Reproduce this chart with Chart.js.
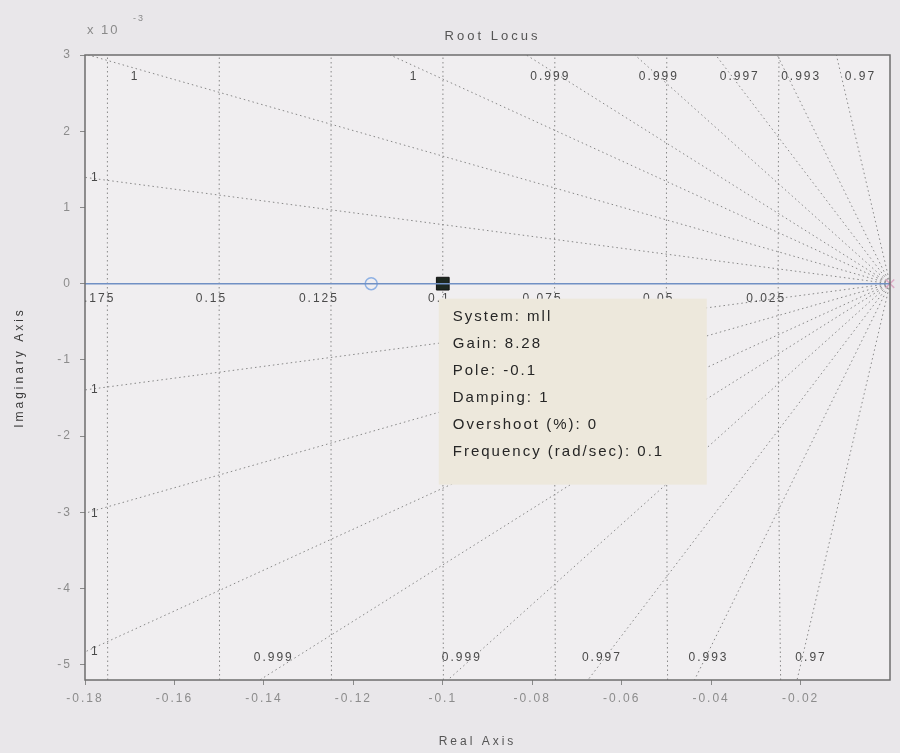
<!DOCTYPE html>
<html>
<head>
<meta charset="utf-8">
<title>Root Locus</title>
<script src="https://cdn.jsdelivr.net/npm/chart.js@4/dist/chart.umd.min.js"></script>
<style>
  html, body { margin: 0; padding: 0; background: #e9e7ea; }
  canvas { display: block; }
</style>
</head>
<body>
<canvas id="c" width="900" height="753"></canvas>
<script>
// Axis ticks (imaginary part is in units of 1e-3)
const realTicks = [-0.18, -0.16, -0.14, -0.12, -0.1, -0.08, -0.06, -0.04, -0.02];
const imagTicks = [-5, -4, -3, -2, -1, 0, 1, 2, 3];
const realRange = [-0.18, 0];
const imagRange = [-5.2, 3];

// s-plane grid: constant damping rays and natural frequency contours
const dampingRatios = [0.99997, 0.99986, 0.99964, 0.99932, 0.99862, 0.99705, 0.993, 0.9701];
const naturalFreqs = [0.175, 0.15, 0.125, 0.1, 0.075, 0.05, 0.025];

// Root locus branch on the real axis, open-loop zero and pole
const locusRe = [-0.18, -0.116, -0.1, 0];
const locusIm = [0, 0, 0, 0];
const zeroRe = [-0.116];
const zeroIm = [0];
const poleRe = [0];
const poleIm = [0];

// Selected closed-loop pole (data tip)
const tipSystem = 'mll';
const tipGain = 8.28;
const tipRe = [-0.1];
const tipIm = [0];

const IMAG_UNIT = 1e-3;
const FONT = '"Liberation Sans", "DejaVu Sans", sans-serif';

function fmt(v) { return String(Number(v.toFixed(3))); }
function pts(xs, ys) { return xs.map((x, i) => ({ x: x, y: ys[i] })); }

const backdrop = {
  id: 'backdrop',
  beforeDraw(chart) {
    const { ctx, chartArea: a } = chart;
    ctx.save();
    ctx.fillStyle = '#e9e7ea';
    ctx.fillRect(0, 0, chart.width, chart.height);
    ctx.fillStyle = '#f0eef0';
    ctx.fillRect(a.left, a.top, a.right - a.left, a.bottom - a.top);
    ctx.restore();
    ctx.letterSpacing = '2px';
  }
};

const sgrid = {
  id: 'sgrid',
  beforeDatasetsDraw(chart) {
    const { ctx, chartArea: a, scales: { x, y } } = chart;
    ctx.save();
    ctx.beginPath();
    ctx.rect(a.left, a.top, a.right - a.left, a.bottom - a.top);
    ctx.clip();
    ctx.strokeStyle = '#888';
    ctx.lineWidth = 1;
    ctx.setLineDash([1.5, 3]);

    // natural frequency contours (circles |s| = wn)
    naturalFreqs.forEach(wn => {
      ctx.beginPath();
      for (let i = 0; i <= 60; i++) {
        const im = imagRange[0] + (imagRange[1] - imagRange[0]) * i / 60;
        const re = -Math.sqrt(Math.max(wn * wn - (im * IMAG_UNIT) ** 2, 0));
        const px = x.getPixelForValue(re), py = y.getPixelForValue(im);
        if (i === 0) ctx.moveTo(px, py); else ctx.lineTo(px, py);
      }
      ctx.stroke();
    });

    // constant damping rays
    const labels = [];
    dampingRatios.forEach(z => {
      const k = Math.sqrt(1 - z * z) / z / IMAG_UNIT;
      [1, -1].forEach(sg => {
        const lim = sg > 0 ? imagRange[1] : -imagRange[0];
        let xe = -lim / k, ye = sg * lim, edge = sg > 0 ? 'top' : 'bottom';
        if (xe < realRange[0]) { xe = realRange[0]; ye = sg * k * -realRange[0]; edge = 'left'; }
        ctx.beginPath();
        ctx.moveTo(x.getPixelForValue(0), y.getPixelForValue(0));
        ctx.lineTo(x.getPixelForValue(xe), y.getPixelForValue(ye));
        ctx.stroke();
        labels.push({ text: fmt(z), edge: edge, px: x.getPixelForValue(xe), py: y.getPixelForValue(ye) });
      });
    });

    ctx.setLineDash([]);
    ctx.letterSpacing = '2px';
    ctx.font = '12px ' + FONT;
    ctx.fillStyle = '#4a4a4a';
    labels.forEach(l => {
      if (l.edge === 'left') {
        ctx.textAlign = 'left'; ctx.textBaseline = 'middle';
        ctx.fillText(l.text, a.left + 6, l.py);
      } else if (l.edge === 'top') {
        ctx.textAlign = 'center'; ctx.textBaseline = 'middle';
        ctx.fillText(l.text, Math.max(l.px + 24, a.left + 50), a.top + 22);
      } else {
        ctx.textAlign = 'center'; ctx.textBaseline = 'middle';
        ctx.fillText(l.text, l.px + 14, a.bottom - 22);
      }
    });

    // natural frequency labels just under the real axis
    ctx.textAlign = 'right'; ctx.textBaseline = 'top';
    naturalFreqs.forEach(wn => {
      ctx.fillText(fmt(wn), x.getPixelForValue(-wn) + 8, y.getPixelForValue(0) + 9);
    });
    ctx.restore();
  }
};

const frame = {
  id: 'frame',
  afterDatasetsDraw(chart) {
    const { ctx, chartArea: a, scales: { x, y } } = chart;
    ctx.save();
    ctx.strokeStyle = '#6e6e6e';
    ctx.lineWidth = 1.5;
    ctx.strokeRect(a.left, a.top, a.right - a.left, a.bottom - a.top);

    // data tip for the selected pole
    const re = tipRe[0], im = tipIm[0];
    const wn = Math.hypot(re, im * IMAG_UNIT);
    const zeta = -re / wn;
    const overshoot = zeta >= 1 ? 0 : 100 * Math.exp(-Math.PI * zeta / Math.sqrt(1 - zeta * zeta));
    const px = x.getPixelForValue(re), py = y.getPixelForValue(im);
    const bx = px - 4, by = py + 15;
    ctx.fillStyle = '#ede8dc';
    ctx.fillRect(bx, by, 268, 186);
    const lines = [
      'System: ' + tipSystem,
      'Gain: ' + tipGain,
      'Pole: ' + fmt(re),
      'Damping: ' + fmt(zeta),
      'Overshoot (%): ' + fmt(overshoot),
      'Frequency (rad/sec): ' + fmt(wn)
    ];
    ctx.letterSpacing = '2px';
    ctx.font = '15px ' + FONT;
    ctx.fillStyle = '#262626';
    ctx.textAlign = 'left'; ctx.textBaseline = 'middle';
    lines.forEach((t, i) => ctx.fillText(t, bx + 14, by + 18 + i * 27));

    // titles and exponent
    ctx.fillStyle = '#555';
    ctx.textAlign = 'center';
    ctx.font = '13px ' + FONT;
    ctx.letterSpacing = '3px';
    ctx.fillText('Root Locus', (a.left + a.right) / 2 + 5, 36);
    ctx.font = '12px ' + FONT;
    ctx.fillText('Real Axis', (a.left + a.right) / 2 - 10, 742);
    ctx.save();
    ctx.translate(20, (a.top + a.bottom) / 2);
    ctx.rotate(-Math.PI / 2);
    ctx.fillStyle = '#3a3a3a';
    ctx.fillText('Imaginary Axis', 0, 0);
    ctx.restore();
    ctx.fillStyle = '#8a8a8a';
    ctx.letterSpacing = '2px';
    ctx.textAlign = 'left';
    ctx.font = '13px ' + FONT;
    ctx.fillText('x 10', a.left + 2, 30);
    ctx.font = '9px ' + FONT;
    ctx.fillText('-3', a.left + 48, 19);
    ctx.restore();
  }
};

new Chart(document.getElementById('c'), {
  type: 'scatter',
  data: {
    datasets: [
      {
        data: pts(locusRe, locusIm), showLine: true,
        borderColor: '#7090c4', borderWidth: 1.5, pointRadius: 0
      },
      {
        data: pts(zeroRe, zeroIm), pointStyle: 'circle', pointRadius: 6,
        borderColor: '#8eb1e4', backgroundColor: 'rgba(0,0,0,0)', borderWidth: 1.5
      },
      {
        data: pts(poleRe, poleIm), pointStyle: 'crossRot', pointRadius: 6,
        borderColor: '#dcaac4', borderWidth: 1.5, clip: false
      },
      {
        data: pts(tipRe, tipIm), pointStyle: 'rect', pointRadius: 9,
        backgroundColor: '#1d2720', borderColor: '#111', borderWidth: 1
      }
    ]
  },
  options: {
    responsive: false,
    animation: false,
    devicePixelRatio: 1,
    layout: { padding: { top: 55, right: 10, left: 0, bottom: 0 } },
    plugins: { legend: { display: false }, tooltip: { enabled: false } },
    scales: {
      x: {
        type: 'linear', min: realRange[0], max: realRange[1],
        afterBuildTicks: s => { s.ticks = realTicks.map(v => ({ value: v })); },
        afterFit: s => { s.height = 73; },
        grid: { drawOnChartArea: false, tickLength: 5, color: '#8a8a8a' },
        border: { display: false },
        ticks: { color: '#8c8c8c', padding: 6, maxRotation: 0, autoSkip: false,
                 font: { family: FONT, size: 12 }, callback: v => fmt(v) }
      },
      y: {
        type: 'linear', min: imagRange[0], max: imagRange[1],
        afterBuildTicks: s => { s.ticks = imagTicks.map(v => ({ value: v })); },
        afterFit: s => { s.width = 85; },
        grid: { drawOnChartArea: false, tickLength: 5, color: '#8a8a8a' },
        border: { display: false },
        ticks: { color: '#8c8c8c', padding: 8, autoSkip: false,
                 font: { family: FONT, size: 12 }, callback: v => fmt(v) }
      }
    }
  },
  plugins: [backdrop, sgrid, frame]
});
</script>
</body>
</html>
